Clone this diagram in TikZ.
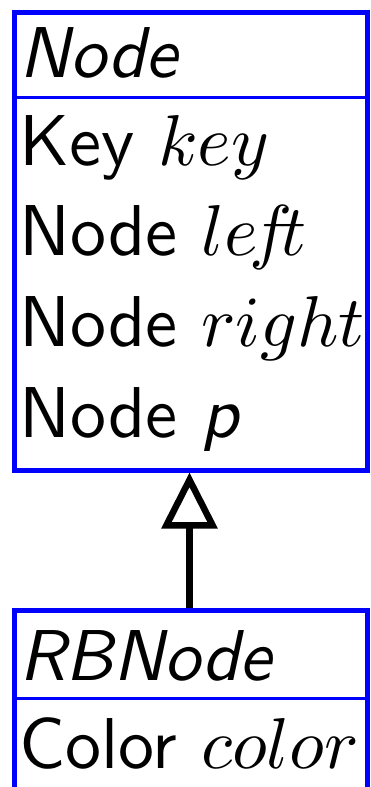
\RequirePackage{fix-cm}
\documentclass[tikz,border=0pt]{standalone}
\usepackage{fontspec}
\setsansfont{lmsans10-regular.otf}[ItalicFont=lmsans10-oblique.otf]
\DeclareFontShape{OML}{cmm}{m}{it}{<->cmmi10}{}
\usetikzlibrary{arrows.meta, positioning}

\begin{document}
\begin{tikzpicture}[
    x=1pt, y=1pt,
    % 1. Class boxes
    umlbox/.style={draw=blue, line width=5pt, minimum width=353pt, anchor=north west, inner sep=0pt},
    umlsep/.style={draw=blue, line width=3pt},
    % 2. Texts
    umltext/.style={anchor=base west, inner sep=0pt, font=\fontsize{72}{90}\selectfont\sffamily},
    % 3. Generalisation arrow
    inherit/.style={line width=6.5pt, -{Triangle[open, length=56pt, width=55pt]}}
]
\useasboundingbox (0,0) rectangle (370,-787);
\clip (0,0) rectangle (370,-787);

% ===============================
% Class Node
% ===============================
\node[umlbox, minimum height=458pt] (nodebox) at (11.5,-9.5) {};
\draw[umlsep] (nodebox.west |- 0,-97.5) -- (nodebox.east |- 0,-97.5);
\node[umltext] (nodename) at (19,-77) {\textit{Node}};
\node[umltext] (keyfield) at (19,-165) {Key $key$};
\node[umltext] (leftfield) at (19,-255) {Node $le\mkern-2mu f\mkern-3mu t$};
\node[umltext] (rightfield) at (19,-346) {Node $right$};
\node[umltext] (pfield) at (19,-437) {Node \textit{p}};

% ===============================
% Class RBNode
% ===============================
\node[umlbox, minimum height=300pt] (rbbox) at (11.5,-608) {};
\draw[umlsep] (rbbox.west |- 0,-698.5) -- (rbbox.east |- 0,-698.5);
\node[umltext] (rbname) at (19,-680) {\textit{RBNode}};
\node[umltext] (colorfield) at (19,-768) {Color $color$};

% Inheritance
\coordinate (rbtop) at (189.5,-608);
\draw[inherit] (rbtop) -- (rbtop |- nodebox.south);

\end{tikzpicture}
\end{document}
